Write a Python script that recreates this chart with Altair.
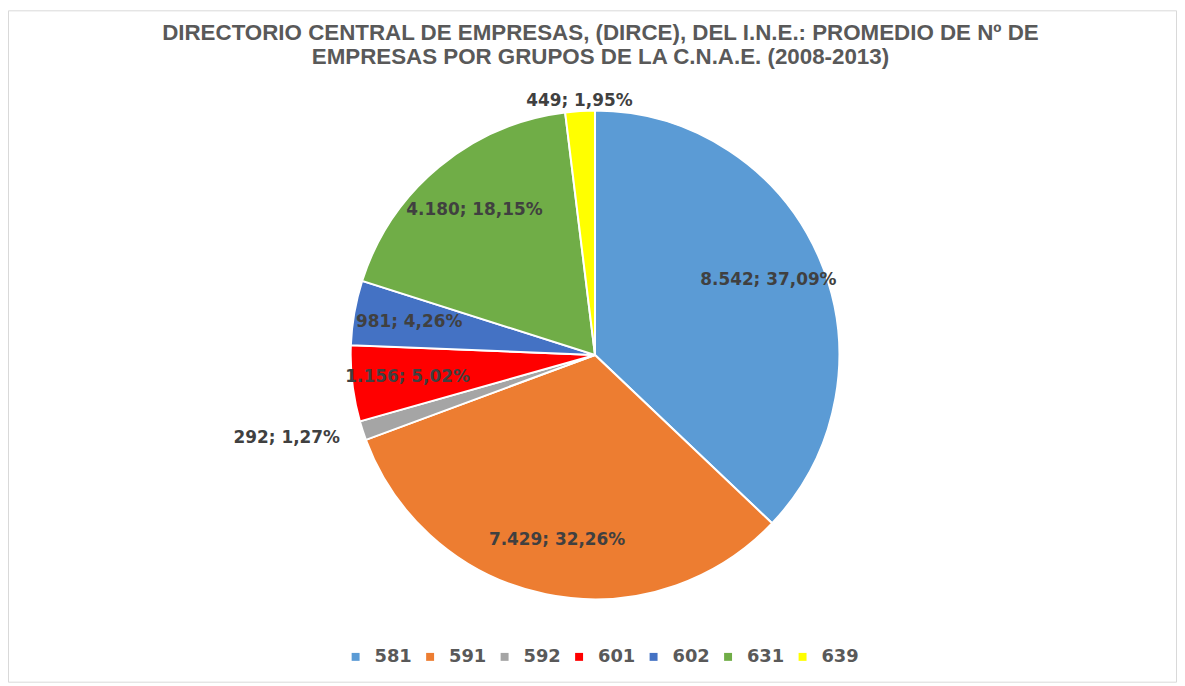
import altair as alt
import pandas as pd

grupos = ["581", "591", "592", "601", "602", "631", "639"]
empresas = [8542, 7429, 292, 1156, 981, 4180, 449]
porcentajes = [37.09, 32.26, 1.27, 5.02, 4.26, 18.15, 1.95]
colores = ["#5B9BD5", "#ED7D31", "#A5A5A5", "#FF0000", "#4472C4", "#70AD47", "#FFFF00"]

titulo = [
    "DIRECTORIO CENTRAL DE EMPRESAS, (DIRCE), DEL I.N.E.: PROMEDIO DE Nº DE",
    "EMPRESAS POR GRUPOS DE LA C.N.A.E. (2008-2013)",
]


def etiqueta(v, p):
    return f"{v:,}".replace(",", ".") + "; " + f"{p:.2f}".replace(".", ",") + "%"


df = pd.DataFrame({
    "grupo": grupos,
    "empresas": empresas,
    "pct": porcentajes,
    "orden": list(range(len(grupos))),
    "etiqueta": [etiqueta(v, p) for v, p in zip(empresas, porcentajes)],
})

W, H = 1177, 606
CX, CY = 591, 275
R = 246
LABEL_FONT = "DejaVu Sans"
LABEL_COLOR = "#404040"

base = alt.Chart(df).encode(
    theta=alt.Theta("empresas:Q", stack=True),
    order=alt.Order("orden:Q"),
    x=alt.value(CX),
    y=alt.value(CY),
)

pie = base.mark_arc(outerRadius=R, stroke="white", strokeWidth=2).encode(
    color=alt.Color(
        "grupo:N",
        scale=alt.Scale(domain=grupos, range=colores),
        sort=grupos,
        legend=alt.Legend(
            title=None,
            orient="none",
            direction="horizontal",
            legendX=341,
            legendY=570,
            symbolType="square",
            symbolSize=64,
            symbolStrokeWidth=0,
            labelFont=LABEL_FONT,
            labelFontWeight="bold",
            labelFontSize=18,
            labelColor="#595959",
            labelOffset=10,
            columnPadding=9,
            padding=0,
        ),
    )
)

inner = base.mark_text(
    radius=190, font=LABEL_FONT, fontWeight="bold", fontSize=17, color=LABEL_COLOR,
    align="center", baseline="middle",
).encode(
    text=alt.Text("lbl_in:N")
).transform_calculate(
    lbl_in="datum.pct >= 2 ? datum.etiqueta : ''"
)

out_left = base.mark_text(
    radius=270, font=LABEL_FONT, fontWeight="bold", fontSize=17, color=LABEL_COLOR,
    align="right", baseline="middle",
).encode(
    text=alt.Text("lbl_l:N")
).transform_calculate(
    lbl_l="datum.grupo == '592' ? datum.etiqueta : ''"
)

out_top = base.mark_text(
    radius=256, font=LABEL_FONT, fontWeight="bold", fontSize=17, color=LABEL_COLOR,
    align="center", baseline="middle",
).encode(
    text=alt.Text("lbl_t:N")
).transform_calculate(
    lbl_t="datum.grupo == '639' ? datum.etiqueta : ''"
)

borde = alt.Chart(pd.DataFrame({"a": [0]})).mark_rect(
    fill=None, stroke="#D9D9D9", strokeWidth=1
).encode(
    x=alt.value(0.5), x2=alt.value(W - 0.5), y=alt.value(-71.5), y2=alt.value(H - 1.5)
)

chart = alt.layer(borde, pie, inner, out_left, out_top).properties(
    width=W,
    height=H,
    padding={"left": 0, "top": 72, "right": 0, "bottom": 0},
    autosize=alt.AutoSizeParams(type="none"),
    title=alt.TitleParams(
        text=titulo,
        anchor="middle",
        font="Liberation Sans",
        fontSize=22.5,
        fontWeight="bold",
        color="#595959",
        lineHeight=25,
        offset=-59,
        dx=8,
    ),
).configure_view(stroke=None)

chart.save("out.html", embed_options={"renderer": "svg", "actions": False})
